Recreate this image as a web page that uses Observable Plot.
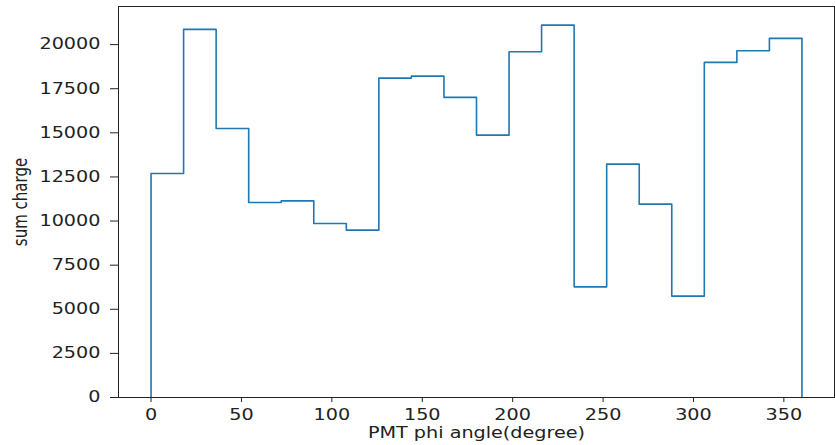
<!DOCTYPE html>
<html><head><meta charset="utf-8">
<script src="https://cdn.jsdelivr.net/npm/d3@7"></script>
<script src="https://cdn.jsdelivr.net/npm/@observablehq/plot@0.6"></script>
<style>body{margin:0;background:#fff;overflow:hidden}</style>
</head><body><div id="chart"></div>
<script>
// bin left edges (degrees), 18-degree bins from 0 to 360
const binEdges = [0,18,36,54,72,90,108,126,144,162,180,198,216,234,252,270,288,306,324,342];
const binEnd = 360;
// summed charge per bin
const binValues = [12698,20862,15249,11054,11145,9864,9484,18101,18214,17007,14870,19592,21106,6270,13225,10958,5743,18991,19649,20351];
const xTicks = [0,50,100,150,200,250,300,350];
const yTicks = [0,2500,5000,7500,10000,12500,15000,17500,20000];
const xLabel = "PMT phi angle(degree)";
const yLabel = "sum charge";

const steps = [{x: binEdges[0], y: 0}]
  .concat(binEdges.map((e, i) => ({x: e, y: binValues[i]})))
  .concat([{x: binEnd, y: binValues[binValues.length - 1]}, {x: binEnd, y: 0}]);

const S = 1.28; // horizontal stretch of the reference picture
const chart = Plot.plot({
  width: 835,
  height: 445,
  marginLeft: 118,
  marginRight: 1,
  marginTop: 6,
  marginBottom: 48,
  style: {fontFamily: "DejaVu Sans", fontSize: "15px", color: "#222", background: "#fff"},
  x: {domain: [-18, 378], ticks: xTicks, tickSize: 5, tickPadding: 7, label: null, tickFormat: d => String(d)},
  y: {domain: [0, 22160], ticks: yTicks, tickSize: 8, tickPadding: 10, label: null, tickFormat: d => String(d)},
  marks: [
    Plot.line(steps, {x: "x", y: "y", curve: "step-after", stroke: "#1f77b4", strokeWidth: 1.6}),
    Plot.frame({stroke: "#222", strokeWidth: 1}),
    Plot.text([xLabel], {frameAnchor: "bottom", textAnchor: "middle", lineAnchor: "bottom", dy: 40, text: d => d, fontSize: 15, fill: "#222"}),
    Plot.text([yLabel], {frameAnchor: "left", textAnchor: "middle", lineAnchor: "middle", dx: -98, rotate: -90, text: d => d, fontSize: 15, fill: "#222"})
  ]
});
document.getElementById("chart").appendChild(chart);
// emulate the horizontal stretch of text in the reference
chart.querySelectorAll("text").forEach(t => {
  let pre = "";
  const xa = t.getAttribute("x");
  if (xa !== null) {
    if (/^\s*-?[\d.]+\s*$/.test(xa)) { pre = `translate(${xa},0)`; t.removeAttribute("x"); }
    else return;
  }
  const tr = t.getAttribute("transform") || "";
  const m = tr.match(/^\s*(translate\([^)]*\))?(.*)$/);
  t.setAttribute("transform", `${m[1] || ""} ${pre} scale(${S},1) ${m[2] || ""}`);
});
</script>
</body></html>
